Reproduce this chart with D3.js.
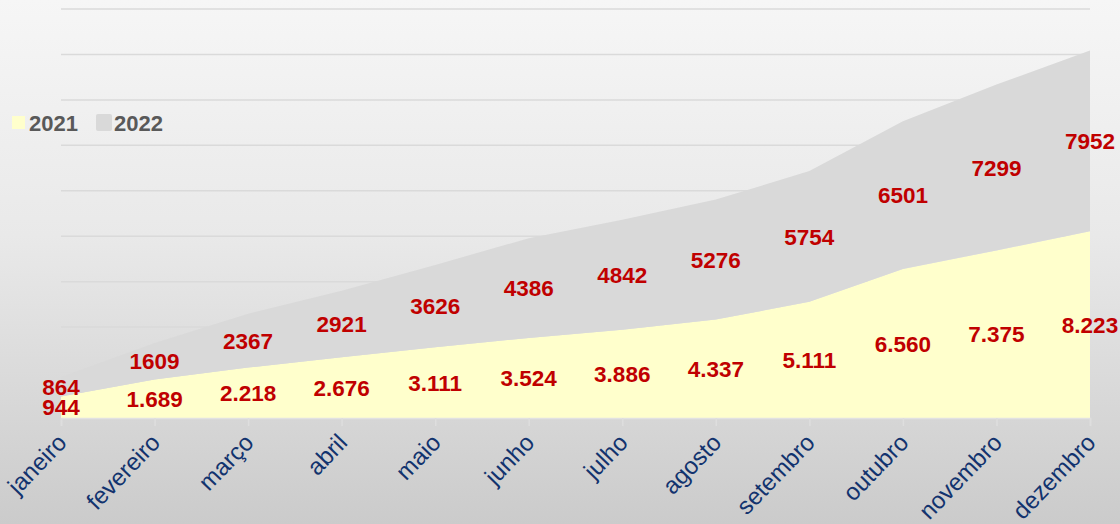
<!DOCTYPE html>
<html><head><meta charset="utf-8">
<script src="https://cdn.jsdelivr.net/npm/d3@7"></script>
<style>body{margin:0;overflow:hidden;} svg{display:block}</style>
</head><body><svg id="chart" width="1120" height="524"></svg>
<script>
const months = ["janeiro","fevereiro","março","abril","maio","junho","julho","agosto","setembro","outubro","novembro","dezembro"];
const values2021 = [944,1689,2218,2676,3111,3524,3886,4337,5111,6560,7375,8223];
const values2022 = [864,1609,2367,2921,3626,4386,4842,5276,5754,6501,7299,7952];
const labels2021 = ["944","1.689","2.218","2.676","3.111","3.524","3.886","4.337","5.111","6.560","7.375","8.223"];
const labels2022 = ["864","1609","2367","2921","3626","4386","4842","5276","5754","6501","7299","7952"];
const seriesNames = ["2021","2022"];
const yTicks = [0,2000,4000,6000,8000,10000,12000,14000,16000,18000];

const colors = {"2021":"#ffffcc","2022":"#d9d9d9"};
const W = 1120, H = 524;
const svg = d3.select("#chart");
const defs = svg.append("defs");
const grad = defs.append("linearGradient").attr("id","bg").attr("x1",0).attr("y1",0).attr("x2",0).attr("y2",1);
grad.append("stop").attr("offset","0%").attr("stop-color","#f6f6f6");
grad.append("stop").attr("offset","45%").attr("stop-color","#e9e9e9");
grad.append("stop").attr("offset","100%").attr("stop-color","#cbcbcb");
svg.append("rect").attr("width",W).attr("height",H).attr("fill","url(#bg)");

const x = d3.scalePoint().domain(months).range([61,1090]);
const y = d3.scaleLinear().domain([0,18000]).range([418,9]);

// gridlines
svg.append("g").selectAll("line").data(yTicks.slice(1)).join("line")
  .attr("x1",61).attr("x2",1090)
  .attr("y1",d=>y(d)).attr("y2",d=>y(d))
  .attr("stroke","#dadada").attr("stroke-width",1.5);

const table = months.map((m,i)=>({month:m,"2021":values2021[i],"2022":values2022[i]}));
const stack = d3.stack().keys(seriesNames)(table);
const area = d3.area().x(d=>x(d.data.month)).y0(d=>y(d[0])).y1(d=>y(d[1]));
svg.append("g").selectAll("path").data(stack).join("path")
  .attr("d",area).attr("fill",d=>colors[d.key]);

// x axis ticks
const xAxis = d3.axisBottom(x).tickSize(8).tickFormat("");
const gx = svg.append("g").attr("transform","translate(0,418)").call(xAxis);
gx.select(".domain").attr("stroke","#e2e2e2").attr("stroke-width",1.5);
gx.selectAll(".tick line").attr("stroke","#dedede").attr("stroke-width",1.5);

svg.append("g").selectAll("text").data(months).join("text")
  .attr("transform",d=>`translate(${x(d)+7},444) rotate(-46)`)
  .attr("text-anchor","end")
  .attr("font-family","Liberation Sans, Arial, sans-serif")
  .attr("font-size",24)
  .attr("fill","#12336e")
  .text(d=>d);

// data labels
const labelSets = [labels2021, labels2022];
stack.forEach((s,si)=>{
  svg.append("g").selectAll("text").data(s).join("text")
    .attr("x",d=>x(d.data.month))
    .attr("y",d=>(y(d[0])+y(d[1]))/2)
    .attr("dy","0.36em")
    .attr("text-anchor","middle")
    .attr("font-family","Liberation Sans, Arial, sans-serif")
    .attr("font-weight","bold")
    .attr("font-size",22.5)
    .attr("fill","#c00000")
    .text((d,i)=>labelSets[si][i]);
});

// legend
const leg = svg.append("g");
leg.append("rect").attr("x",12).attr("y",116).attr("width",13).attr("height",13).attr("fill",colors["2021"]);
leg.append("text").attr("x",29).attr("y",131).text(seriesNames[0]);
leg.append("rect").attr("x",96).attr("y",114).attr("width",16).attr("height",17).attr("rx",2).attr("fill",colors["2022"]);
leg.append("text").attr("x",114).attr("y",131).text(seriesNames[1]);
leg.selectAll("text").attr("font-family","Liberation Sans, Arial, sans-serif")
  .attr("font-weight","bold").attr("font-size",22).attr("fill","#595959");
</script></body></html>
